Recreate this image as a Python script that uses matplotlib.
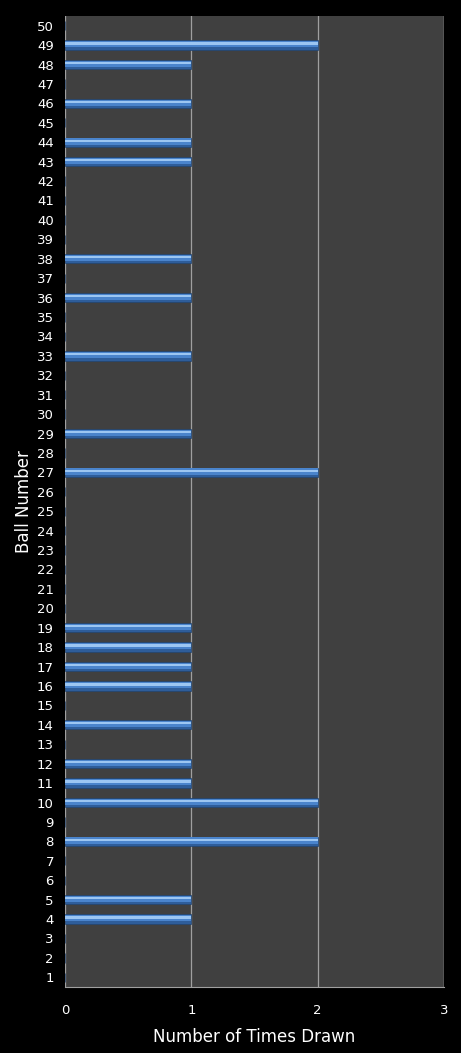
import matplotlib.pyplot as plt
import numpy as np

balls = list(range(1, 51))
drawn_balls = [4, 5, 8, 10, 11, 12, 14, 16, 17, 18, 19, 27, 29, 33, 36, 38, 43, 44, 46, 48, 49]
drawn_counts = [1, 1, 2, 2, 1, 1, 1, 1, 1, 1, 1, 2, 1, 1, 1, 1, 1, 1, 1, 1, 2]

counts = dict(zip(drawn_balls, drawn_counts))
values = [counts.get(b, 0) for b in balls]

fig = plt.figure(figsize=(4.61, 10.53), dpi=100, facecolor='black')
ax = fig.add_axes([65 / 461, 1 - 987 / 1053, 379 / 461, 971 / 1053])
ax.set_facecolor('#404040')

y = np.array(balls)
# bar body, then lighter stripes on the upper half for the glossy look
ax.barh(y, values, height=0.48, color='#2e5d9a', edgecolor='#22446f', linewidth=0.5, zorder=3)
ax.barh(y + 0.04, values, height=0.32, color='#4a84cc', linewidth=0, zorder=4)
ax.barh(y + 0.08, values, height=0.12, color='#9cc6f2', linewidth=0, zorder=5)

ax.set_xlim(0, 3)
ax.set_ylim(0.5, 50.5)
ax.set_xticks([0, 1, 2, 3])
ax.set_yticks(balls)
ax.set_yticklabels([str(b) for b in balls])
ax.tick_params(colors='white', labelsize=9.5, length=0)
ax.tick_params(axis='x', pad=12)
ax.tick_params(axis='y', pad=8)
ax.grid(axis='x', color='#a0a0a0', linewidth=0.9, zorder=1)
for side in ['top', 'left', 'right']:
    ax.spines[side].set_visible(False)
ax.spines['bottom'].set_color('#a0a0a0')
ax.axvline(3, color='#a0a0a0', linewidth=0.9, zorder=1)

ax.set_xlabel('Number of Times Drawn', color='white', fontsize=12, labelpad=8)
ax.set_ylabel('Ball Number', color='white', fontsize=12, labelpad=3)

fig.savefig('out.png', dpi=100, facecolor='black')
